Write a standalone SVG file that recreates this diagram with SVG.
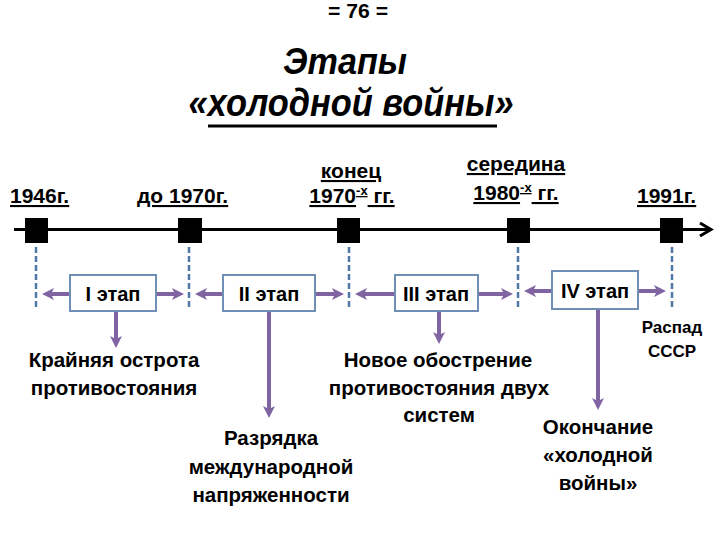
<svg xmlns="http://www.w3.org/2000/svg" width="720" height="540" viewBox="0 0 720 540">
  <style>
    text { font-family: "Liberation Sans", Arial, sans-serif; font-weight: bold; fill: #000; }
    .date { font-size: 21px; text-decoration: underline; }
    .stage { font-size: 20px; text-anchor: middle; }
    .desc { font-size: 20.5px; text-anchor: middle; }
    .box { fill: #ffffff; stroke: #6F90B4; stroke-width: 2; }
    .dash { stroke: #5179A8; stroke-width: 2.5; stroke-dasharray: 6 3; fill: none; }
    .parrow { stroke: #8064A2; stroke-width: 4; fill: none; marker-end: url(#pa); }
    .sq { fill: #000; }
  </style>
  <defs>
    <marker id="pa" viewBox="0 0 12 12" refX="4" refY="6" markerWidth="12" markerHeight="12" markerUnits="userSpaceOnUse" orient="auto">
      <path d="M0,0 L12,6 L0,12 L3,6 z" fill="#8064A2"/>
    </marker>
  </defs>
  <rect width="720" height="540" fill="#ffffff"/>

  <g id="header">
    <text x="358" y="18" font-size="20" text-anchor="middle" textLength="60" lengthAdjust="spacingAndGlyphs">= 76 =</text>
    <text x="345" y="74" font-size="36" font-style="italic" text-anchor="middle" textLength="124" lengthAdjust="spacingAndGlyphs">Этапы</text>
    <text x="351" y="116" font-size="39" font-style="italic" text-anchor="middle" textLength="325" lengthAdjust="spacingAndGlyphs">«холодной войны»</text>
    <rect x="208" y="124.5" width="289" height="3" fill="#000"/>
  </g>

  <g id="timeline">
    <line x1="14" y1="229.5" x2="710" y2="229.5" stroke="#000" stroke-width="3"/>
    <polyline points="700,223 711,229.5 700,236" fill="none" stroke="#000" stroke-width="3"/>
    <rect class="sq" x="25" y="218" width="23" height="25"/>
    <rect class="sq" x="178" y="218" width="24" height="25"/>
    <rect class="sq" x="337" y="218" width="23" height="25"/>
    <rect class="sq" x="507" y="218" width="23" height="25"/>
    <rect class="sq" x="660" y="218" width="23" height="25"/>
  </g>

  <g id="dates">
    <text class="date" x="10" y="203">1946г.</text>
    <text class="date" x="137" y="203">до 1970г.</text>
    <text class="date" x="351" y="178" text-anchor="middle">конец</text>
    <text class="date" x="352" y="203" text-anchor="middle">1970<tspan font-size="13" dy="-8">-х</tspan><tspan dy="8"> гг.</tspan></text>
    <text class="date" x="516" y="171" text-anchor="middle">середина</text>
    <text class="date" x="516" y="200" text-anchor="middle">1980<tspan font-size="13" dy="-8">-х</tspan><tspan dy="8"> гг.</tspan></text>
    <text class="date" x="637" y="203">1991г.</text>
  </g>

  <g id="dividers">
    <line class="dash" x1="36" y1="247" x2="36" y2="308"/>
    <line class="dash" x1="189" y1="247" x2="189" y2="308"/>
    <line class="dash" x1="349" y1="247" x2="349" y2="308"/>
    <line class="dash" x1="518" y1="247" x2="518" y2="308"/>
    <line class="dash" x1="672" y1="247" x2="672" y2="308"/>
  </g>

  <g id="connectors">
    <line class="parrow" x1="70" y1="294" x2="50" y2="294"/>
    <line class="parrow" x1="156" y1="294" x2="176" y2="294"/>
    <line class="parrow" x1="223" y1="294" x2="203" y2="294"/>
    <line class="parrow" x1="315" y1="294" x2="336" y2="294"/>
    <line class="parrow" x1="395" y1="294" x2="363" y2="294"/>
    <line class="parrow" x1="478" y1="294" x2="505" y2="294"/>
    <line class="parrow" x1="552" y1="291" x2="532" y2="291"/>
    <line class="parrow" x1="638" y1="291" x2="658" y2="291"/>
    <line class="parrow" x1="116" y1="311" x2="116" y2="340"/>
    <line class="parrow" x1="269" y1="311" x2="269" y2="410"/>
    <line class="parrow" x1="439" y1="311" x2="439" y2="336"/>
    <line class="parrow" x1="598" y1="309" x2="598" y2="402"/>
  </g>

  <g id="stage1">
    <rect class="box" x="70" y="275" width="86" height="36"/>
    <text class="stage" x="113" y="301">I этап</text>
  </g>
  <g id="stage2">
    <rect class="box" x="223" y="275" width="92" height="36"/>
    <text class="stage" x="269" y="301">II этап</text>
  </g>
  <g id="stage3">
    <rect class="box" x="395" y="275" width="83" height="36"/>
    <text class="stage" x="436" y="301">III этап</text>
  </g>
  <g id="stage4">
    <rect class="box" x="552" y="271" width="86" height="38"/>
    <text class="stage" x="595" y="298">IV этап</text>
  </g>

  <g id="desc1">
    <text class="desc" x="114" y="367">Крайняя острота</text>
    <text class="desc" x="114" y="395">противостояния</text>
  </g>
  <g id="desc2">
    <text class="desc" x="271" y="445">Разрядка</text>
    <text class="desc" x="271" y="474">международной</text>
    <text class="desc" x="271" y="502">напряженности</text>
  </g>
  <g id="desc3">
    <text class="desc" x="438" y="367">Новое обострение</text>
    <text class="desc" x="439" y="395">противостояния двух</text>
    <text class="desc" x="439" y="422">систем</text>
  </g>
  <g id="desc4">
    <text class="desc" x="598" y="434">Окончание</text>
    <text class="desc" x="598" y="462">«холодной</text>
    <text class="desc" x="598" y="490">войны»</text>
  </g>
  <g id="collapse">
    <text x="672" y="333" font-size="17" text-anchor="middle">Распад</text>
    <text x="672" y="357" font-size="17" text-anchor="middle">СССР</text>
  </g>
</svg>
